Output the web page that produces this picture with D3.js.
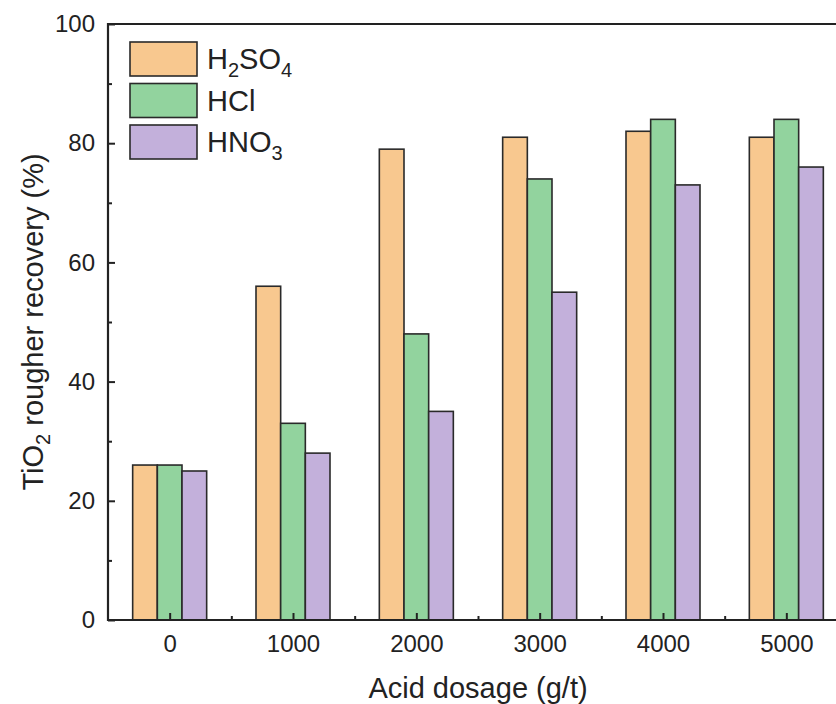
<!DOCTYPE html>
<html>
<head>
<meta charset="utf-8">
<script src="https://cdn.jsdelivr.net/npm/d3@7"></script>
<style>
  body { margin: 0; background: #fff; }
  svg { display: block; font-family: Arial, "Liberation Sans", sans-serif; }
  .axis text { font-size: 24px; fill: #222; }
  .axis line { stroke: #222; stroke-width: 2; }
  .label { font-size: 29px; fill: #222; }
  .legend { font-size: 29px; fill: #222; }
</style>
</head>
<body>
<svg id="chart"></svg>
<script>
const w = 836, h = 704;
const margins = { top: 24, right: -12, bottom: 84, left: 108 };

// data
const dosages = [0, 1000, 2000, 3000, 4000, 5000];
const acids = ['H2SO4', 'HCl', 'HNO3'];
const h2so4 = [26, 56, 79, 81, 82, 81];
const hcl = [26, 33, 48, 74, 84, 84];
const hno3 = [25, 28, 35, 55, 73, 76];
const yTicks = [0, 20, 40, 60, 80, 100];
const colors = ['#F8C88F', '#92D39E', '#C3B0DB'];

const series = [h2so4, hcl, hno3];
const BAR = 200; // bar width in dosage units

let chart = d3.select('#chart')
  .attr('width', w)
  .attr('height', h);

// plot runs a little past the right edge, like the cropped original
let xScale = d3.scaleLinear()
  .domain([-500, 5500])
  .range([margins.left, w - margins.right]);

let yScale = d3.scaleLinear()
  .domain([0, 100])
  .range([h - margins.bottom, margins.top]);

// flatten into one row per bar
let bars = [];
series.forEach((s, i) => {
  s.forEach((v, j) => {
    bars.push({ acid: i, dosage: dosages[j], value: v });
  });
});

chart.selectAll('rect.bar')
  .data(bars)
  .join('rect')
  .attr('class', 'bar')
  .attr('x', d => xScale(d.dosage + (d.acid - 1.5) * BAR))
  .attr('y', d => yScale(d.value))
  .attr('width', d => xScale(BAR) - xScale(0))
  .attr('height', d => yScale(0) - yScale(d.value))
  .style('fill', d => colors[d.acid])
  .style('stroke', '#2a2a2a')
  .style('stroke-width', 1.6);

// X AXIS (ticks point inward)
chart.append('g')
  .attr('class', 'axis')
  .attr('transform', `translate(0, ${yScale(0)})`)
  .call(d3.axisBottom(xScale).tickValues(dosages).tickFormat(d3.format('d')).tickSize(-7).tickPadding(15))
  .call(g => g.select('.domain').remove());

chart.append('g')
  .attr('class', 'axis')
  .attr('transform', `translate(0, ${yScale(0)})`)
  .call(d3.axisBottom(xScale).tickValues(dosages.map(d => d + 500)).tickSize(-4).tickFormat(''))
  .call(g => g.select('.domain').remove());

// Y AXIS
chart.append('g')
  .attr('class', 'axis')
  .attr('transform', `translate(${xScale(-500)}, 0)`)
  .call(d3.axisLeft(yScale).tickValues(yTicks).tickSize(-7).tickPadding(13))
  .call(g => g.select('.domain').remove());

chart.append('g')
  .attr('class', 'axis')
  .attr('transform', `translate(${xScale(-500)}, 0)`)
  .call(d3.axisLeft(yScale).tickValues(yTicks.slice(0, -1).map(d => d + 10)).tickSize(-4).tickFormat(''))
  .call(g => g.select('.domain').remove());

// frame
chart.append('path')
  .attr('d', `M${xScale(5500)},${yScale(100)}H${xScale(-500)}V${yScale(0)}H${xScale(5500)}V${yScale(100)}`)
  .style('fill', 'none')
  .style('stroke', '#222')
  .style('stroke-width', 2.2);

// X AXIS LABEL
chart.append('text')
  .attr('class', 'label')
  .attr('transform', `translate(${(xScale(-500) + xScale(5500)) / 2}, ${698})`)
  .attr('text-anchor', 'middle')
  .text('Acid dosage (g/t)');

// Y AXIS LABEL
let yLabel = chart.append('text')
  .attr('class', 'label')
  .attr('transform', `translate(${43}, ${(yScale(0) + yScale(100)) / 2}) rotate(-90)`)
  .attr('text-anchor', 'middle');
yLabel.append('tspan').text('TiO');
yLabel.append('tspan').attr('dy', 7).style('font-size', '20px').text('2');
yLabel.append('tspan').attr('dy', -7).text(' rougher recovery (%)');

// legend with subscripts
const legendParts = [
  [['H', 0], ['2', 1], ['SO', 0], ['4', 1]],
  [['HCl', 0]],
  [['HNO', 0], ['3', 1]]
];

let legend = chart.append('g')
  .attr('transform', `translate(${130}, ${42})`);

acids.forEach((a, i) => {
  let row = legend.append('g').attr('transform', `translate(0, ${i * 41.5})`);
  row.append('rect')
    .attr('width', 67)
    .attr('height', 34)
    .style('fill', colors[i])
    .style('stroke', '#2a2a2a')
    .style('stroke-width', 1.6);
  let t = row.append('text')
    .attr('class', 'legend')
    .attr('x', 77)
    .attr('y', 27);
  let sub = false;
  legendParts[i].forEach(([s, isSub]) => {
    let dy = isSub && !sub ? 8 : (!isSub && sub ? -8 : 0);
    t.append('tspan')
      .attr('dy', dy)
      .style('font-size', isSub ? '20px' : null)
      .text(s);
    sub = !!isSub;
  });
});
</script>
</body>
</html>
